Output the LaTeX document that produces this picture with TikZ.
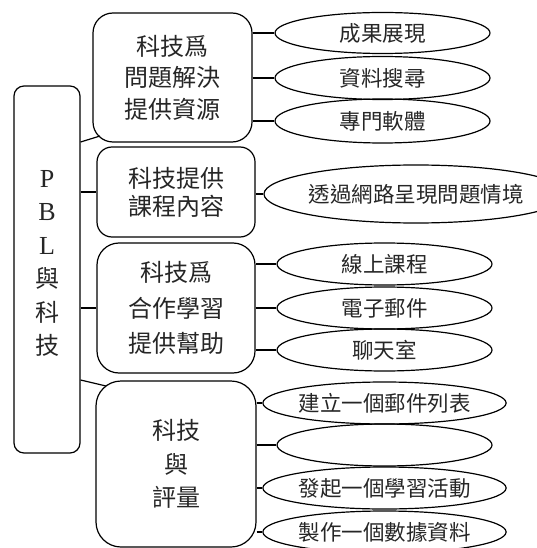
\documentclass[tikz,border=0pt]{standalone}
\usepackage{fontspec}
\setmainfont{Liberation Serif}
\newfontfamily\cjk{Noto Sans CJK TC}
\usetikzlibrary{shapes.geometric}
\tikzset{
  line/.style={line width=1.2pt},
  cbox/.style={draw, line width=1.2pt, rounded corners=#1, inner sep=0pt, align=center, text=black!85},
  oval/.style={draw, ellipse, line width=1.2pt, inner sep=0pt, minimum width=215pt, minimum height=43pt, text=black!85, font=\cjk\fontsize{21.5}{24}\selectfont},
}
\begin{document}
\begin{tikzpicture}[x=1pt,y=-1pt]
\useasboundingbox (0,0) rectangle (537,548);
% left box
\node[cbox=10pt, minimum width=66pt, minimum height=367pt] (pbl) at (47,269.5) {};
\node[inner sep=0pt, align=center, text=black!85, font=\fontsize{26}{33.5}\selectfont] (pbltext) at (47,263.5) {P\\B\\L\\{\cjk\fontsize{24}{33.5}\selectfont 與}\\{\cjk\fontsize{24}{33.5}\selectfont 科}\\{\cjk\fontsize{24}{33.5}\selectfont 技}};
% category boxes
\node[cbox=20pt, minimum width=159pt, minimum height=129pt, font=\cjk\fontsize{24}{31.5}\selectfont] (b1) at (172.5,77.5) {科技爲\\問題解決\\提供資源};
\node[cbox=15pt, minimum width=158pt, minimum height=90pt, font=\cjk\fontsize{24}{28}\selectfont] (b2) at (176,192) {科技提供\\課程內容};
\node[cbox=22pt, minimum width=158pt, minimum height=130pt, font=\cjk\fontsize{24}{35.5}\selectfont] (b3) at (176,308) {科技爲\\合作學習\\提供幫助};
\node[cbox=25pt, minimum width=160pt, minimum height=166pt, font=\cjk\fontsize{24}{33.5}\selectfont] (b4) at (176,464) {科技\\與\\評量};
% ellipses
\node[oval, minimum height=41pt] (e1) at (382.5,33) {成果展現};
\node[oval] (e2) at (382.5,78) {資料搜尋};
\node[oval, minimum height=44pt] (e3) at (382.5,121) {專門軟體};
\node[oval, minimum width=240pt, minimum height=58pt] (e4) at (416,194) {透過網路呈現問題情境};
\node[oval, minimum height=42pt] (e5) at (384.5,264) {線上課程};
\node[oval, minimum height=42pt] (e6) at (384.5,308) {電子郵件};
\node[oval, minimum height=42pt] (e7) at (384.5,350) {聊天室};
\node[oval, minimum height=42pt] (e8) at (384.5,403) {建立一個郵件列表};
\node[oval, minimum height=42pt] (e9) at (384.5,445) {};
\node[oval, minimum height=42pt] (e10) at (384.5,488) {發起一個學習活動};
\node[oval, minimum height=42pt] (e11) at (384.5,532) {製作一個數據資料};
% connectors from PBL
\coordinate (k1) at (100,136);
\coordinate (k4) at (106,386);
\draw[line] (pbl.east |- 0,142) -- (k1);
\draw[line] (pbl.east |- b2.west) -- (b2.west);
\draw[line] (pbl.east |- b3.west) -- (b3.west);
\draw[line] (pbl.east |- 0,380) -- (k4);
% connectors to ellipses
\foreach \e in {e1,e2,e3} \draw[line] (b1.east |- \e.west) -- (\e.west);
\draw[line] (b2.east |- e4.west) -- (e4.west);
\foreach \e in {e5,e6,e7} \draw[line] (b3.east |- \e.west) -- (\e.west);
\foreach \e in {e8,e9,e10,e11} \draw[line] (b4.east |- \e.west) -- (\e.west);
\end{tikzpicture}
\end{document}
